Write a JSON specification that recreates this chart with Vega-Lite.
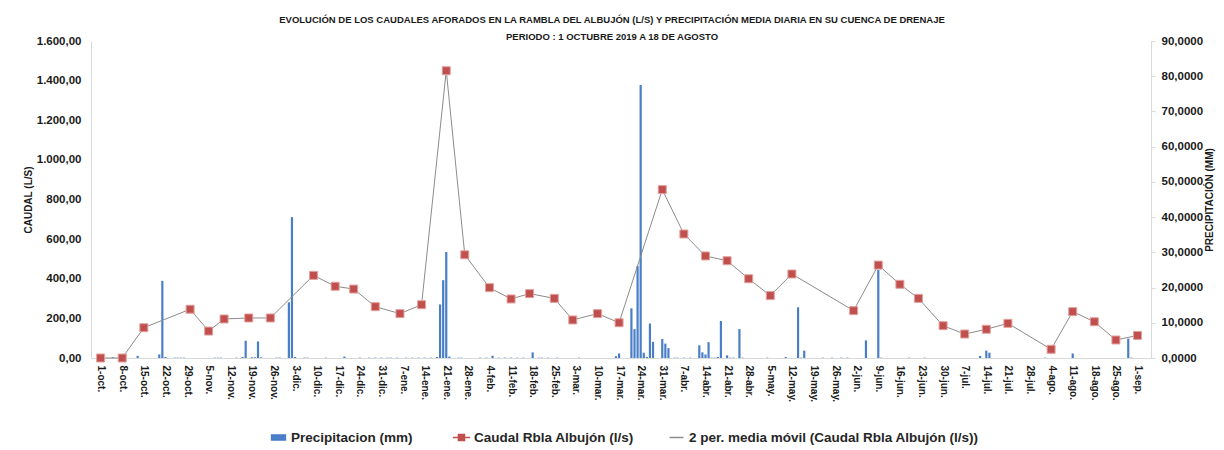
{
  "$schema": "https://vega.github.io/schema/vega-lite/v6.json",
  "width": 1060,
  "height": 317,
  "autosize": {"type": "none"},
  "padding": {"left": 91, "top": 41, "right": 73, "bottom": 92},
  "background": "white",
  "title": {
    "text": ["EVOLUCIÓN DE LOS CAUDALES AFORADOS EN LA RAMBLA DEL ALBUJÓN (L/S)  Y PRECIPITACIÓN MEDIA DIARIA EN SU CUENCA DE DRENAJE", "PERIODO : 1 OCTUBRE  2019 A 18 DE AGOSTO"],
    "font": "Liberation Sans",
    "fontSize": 9.5,
    "fontWeight": "bold",
    "color": "#1a1a1a",
    "lineHeight": 17,
    "anchor": "middle",
    "frame": "group",
    "offset": -6,
    "dx": -9
  },
  "datasets": {
    "precip": [
      {"fecha": "2019-10-05", "precip": 0.2},
      {"fecha": "2019-10-13", "precip": 0.6},
      {"fecha": "2019-10-20", "precip": 1.0},
      {"fecha": "2019-10-21", "precip": 21.9},
      {"fecha": "2019-10-22", "precip": 0.3},
      {"fecha": "2019-10-25", "precip": 0.1},
      {"fecha": "2019-10-26", "precip": 0.1},
      {"fecha": "2019-10-27", "precip": 0.1},
      {"fecha": "2019-10-28", "precip": 0.1},
      {"fecha": "2019-11-07", "precip": 0.1},
      {"fecha": "2019-11-08", "precip": 0.1},
      {"fecha": "2019-11-09", "precip": 0.1},
      {"fecha": "2019-11-14", "precip": 0.1},
      {"fecha": "2019-11-16", "precip": 0.3},
      {"fecha": "2019-11-17", "precip": 4.9},
      {"fecha": "2019-11-19", "precip": 0.2},
      {"fecha": "2019-11-20", "precip": 0.2},
      {"fecha": "2019-11-21", "precip": 4.7},
      {"fecha": "2019-11-22", "precip": 0.2},
      {"fecha": "2019-11-27", "precip": 0.1},
      {"fecha": "2019-11-28", "precip": 0.1},
      {"fecha": "2019-12-01", "precip": 15.8},
      {"fecha": "2019-12-02", "precip": 40.0},
      {"fecha": "2019-12-03", "precip": 0.3},
      {"fecha": "2019-12-06", "precip": 0.1},
      {"fecha": "2019-12-07", "precip": 0.1},
      {"fecha": "2019-12-13", "precip": 0.1},
      {"fecha": "2019-12-19", "precip": 0.4},
      {"fecha": "2019-12-24", "precip": 0.1},
      {"fecha": "2019-12-27", "precip": 0.1},
      {"fecha": "2019-12-29", "precip": 0.1},
      {"fecha": "2019-12-31", "precip": 0.1},
      {"fecha": "2020-01-02", "precip": 0.1},
      {"fecha": "2020-01-03", "precip": 0.1},
      {"fecha": "2020-01-05", "precip": 0.1},
      {"fecha": "2020-01-08", "precip": 0.1},
      {"fecha": "2020-01-10", "precip": 0.1},
      {"fecha": "2020-01-12", "precip": 0.1},
      {"fecha": "2020-01-14", "precip": 0.1},
      {"fecha": "2020-01-16", "precip": 0.1},
      {"fecha": "2020-01-18", "precip": 0.3},
      {"fecha": "2020-01-19", "precip": 15.2},
      {"fecha": "2020-01-20", "precip": 22.1},
      {"fecha": "2020-01-21", "precip": 30.1},
      {"fecha": "2020-01-22", "precip": 0.4},
      {"fecha": "2020-01-25", "precip": 0.1},
      {"fecha": "2020-01-26", "precip": 0.1},
      {"fecha": "2020-02-01", "precip": 0.1},
      {"fecha": "2020-02-03", "precip": 0.1},
      {"fecha": "2020-02-05", "precip": 0.65},
      {"fecha": "2020-02-07", "precip": 0.1},
      {"fecha": "2020-02-09", "precip": 0.1},
      {"fecha": "2020-02-11", "precip": 0.1},
      {"fecha": "2020-02-13", "precip": 0.1},
      {"fecha": "2020-02-15", "precip": 0.1},
      {"fecha": "2020-02-18", "precip": 1.6},
      {"fecha": "2020-02-20", "precip": 0.1},
      {"fecha": "2020-02-21", "precip": 0.1},
      {"fecha": "2020-02-23", "precip": 0.1},
      {"fecha": "2020-02-26", "precip": 0.1},
      {"fecha": "2020-03-04", "precip": 0.1},
      {"fecha": "2020-03-16", "precip": 0.5},
      {"fecha": "2020-03-17", "precip": 1.3},
      {"fecha": "2020-03-21", "precip": 14.1},
      {"fecha": "2020-03-22", "precip": 8.2},
      {"fecha": "2020-03-23", "precip": 26.1},
      {"fecha": "2020-03-24", "precip": 77.5},
      {"fecha": "2020-03-25", "precip": 1.5},
      {"fecha": "2020-03-26", "precip": 0.3},
      {"fecha": "2020-03-27", "precip": 9.8},
      {"fecha": "2020-03-28", "precip": 4.6},
      {"fecha": "2020-03-31", "precip": 5.4},
      {"fecha": "2020-04-01", "precip": 4.1},
      {"fecha": "2020-04-02", "precip": 2.8},
      {"fecha": "2020-04-04", "precip": 0.1},
      {"fecha": "2020-04-05", "precip": 0.1},
      {"fecha": "2020-04-07", "precip": 0.1},
      {"fecha": "2020-04-09", "precip": 0.1},
      {"fecha": "2020-04-12", "precip": 3.6},
      {"fecha": "2020-04-13", "precip": 1.6},
      {"fecha": "2020-04-14", "precip": 1.0},
      {"fecha": "2020-04-15", "precip": 4.5},
      {"fecha": "2020-04-16", "precip": 0.1},
      {"fecha": "2020-04-17", "precip": 0.1},
      {"fecha": "2020-04-18", "precip": 0.3},
      {"fecha": "2020-04-19", "precip": 10.5},
      {"fecha": "2020-04-21", "precip": 0.75},
      {"fecha": "2020-04-22", "precip": 0.1},
      {"fecha": "2020-04-23", "precip": 0.1},
      {"fecha": "2020-04-25", "precip": 8.2},
      {"fecha": "2020-04-26", "precip": 0.1},
      {"fecha": "2020-05-04", "precip": 0.1},
      {"fecha": "2020-05-10", "precip": 0.3},
      {"fecha": "2020-05-14", "precip": 14.4},
      {"fecha": "2020-05-15", "precip": 0.1},
      {"fecha": "2020-05-16", "precip": 2.1},
      {"fecha": "2020-05-22", "precip": 0.1},
      {"fecha": "2020-05-25", "precip": 0.1},
      {"fecha": "2020-05-28", "precip": 0.1},
      {"fecha": "2020-05-30", "precip": 0.1},
      {"fecha": "2020-06-05", "precip": 5.0},
      {"fecha": "2020-06-09", "precip": 25.0},
      {"fecha": "2020-06-10", "precip": 0.1},
      {"fecha": "2020-06-19", "precip": 0.1},
      {"fecha": "2020-06-24", "precip": 0.1},
      {"fecha": "2020-07-12", "precip": 0.6},
      {"fecha": "2020-07-14", "precip": 2.1},
      {"fecha": "2020-07-15", "precip": 1.5},
      {"fecha": "2020-08-02", "precip": 0.1},
      {"fecha": "2020-08-11", "precip": 1.3},
      {"fecha": "2020-08-29", "precip": 5.5},
      {"fecha": "2020-08-30", "precip": 0.1}
    ],
    "caudal": [
      {"fecha": "2019-10-01", "caudal": 0},
      {"fecha": "2019-10-08", "caudal": 0},
      {"fecha": "2019-10-15", "caudal": 153},
      {"fecha": "2019-10-30", "caudal": 246},
      {"fecha": "2019-11-05", "caudal": 136},
      {"fecha": "2019-11-10", "caudal": 197},
      {"fecha": "2019-11-18", "caudal": 202},
      {"fecha": "2019-11-25", "caudal": 202},
      {"fecha": "2019-12-09", "caudal": 417},
      {"fecha": "2019-12-16", "caudal": 362},
      {"fecha": "2019-12-22", "caudal": 348},
      {"fecha": "2019-12-29", "caudal": 259},
      {"fecha": "2020-01-06", "caudal": 224},
      {"fecha": "2020-01-13", "caudal": 269},
      {"fecha": "2020-01-21", "caudal": 1450},
      {"fecha": "2020-01-27", "caudal": 521},
      {"fecha": "2020-02-04", "caudal": 355},
      {"fecha": "2020-02-11", "caudal": 298},
      {"fecha": "2020-02-17", "caudal": 325},
      {"fecha": "2020-02-25", "caudal": 301},
      {"fecha": "2020-03-02", "caudal": 192},
      {"fecha": "2020-03-10", "caudal": 224},
      {"fecha": "2020-03-17", "caudal": 178},
      {"fecha": "2020-03-31", "caudal": 850},
      {"fecha": "2020-04-07", "caudal": 626},
      {"fecha": "2020-04-14", "caudal": 515},
      {"fecha": "2020-04-21", "caudal": 491},
      {"fecha": "2020-04-28", "caudal": 400},
      {"fecha": "2020-05-05", "caudal": 315},
      {"fecha": "2020-05-12", "caudal": 424},
      {"fecha": "2020-06-01", "caudal": 239},
      {"fecha": "2020-06-09", "caudal": 469},
      {"fecha": "2020-06-16", "caudal": 372},
      {"fecha": "2020-06-22", "caudal": 301},
      {"fecha": "2020-06-30", "caudal": 163},
      {"fecha": "2020-07-07", "caudal": 121},
      {"fecha": "2020-07-14", "caudal": 145},
      {"fecha": "2020-07-21", "caudal": 175},
      {"fecha": "2020-08-04", "caudal": 44},
      {"fecha": "2020-08-11", "caudal": 234},
      {"fecha": "2020-08-18", "caudal": 183},
      {"fecha": "2020-08-25", "caudal": 91},
      {"fecha": "2020-09-01", "caudal": 114}
    ]
  },
  "encoding": {
    "x": {
      "field": "fecha",
      "type": "temporal",
      "scale": {
        "type": "utc",
        "domain": [
          {"year": 2019, "month": 9, "date": 29, "hours": 12, "utc": true},
          {"year": 2020, "month": 9, "date": 3, "hours": 18, "utc": true}
        ]
      },
      "axis": {
        "title": null,
        "values": [
          {"year": 2019, "month": 10, "date": 1, "utc": true},
          {"year": 2019, "month": 10, "date": 8, "utc": true},
          {"year": 2019, "month": 10, "date": 15, "utc": true},
          {"year": 2019, "month": 10, "date": 22, "utc": true},
          {"year": 2019, "month": 10, "date": 29, "utc": true},
          {"year": 2019, "month": 11, "date": 5, "utc": true},
          {"year": 2019, "month": 11, "date": 12, "utc": true},
          {"year": 2019, "month": 11, "date": 19, "utc": true},
          {"year": 2019, "month": 11, "date": 26, "utc": true},
          {"year": 2019, "month": 12, "date": 3, "utc": true},
          {"year": 2019, "month": 12, "date": 10, "utc": true},
          {"year": 2019, "month": 12, "date": 17, "utc": true},
          {"year": 2019, "month": 12, "date": 24, "utc": true},
          {"year": 2019, "month": 12, "date": 31, "utc": true},
          {"year": 2020, "month": 1, "date": 7, "utc": true},
          {"year": 2020, "month": 1, "date": 14, "utc": true},
          {"year": 2020, "month": 1, "date": 21, "utc": true},
          {"year": 2020, "month": 1, "date": 28, "utc": true},
          {"year": 2020, "month": 2, "date": 4, "utc": true},
          {"year": 2020, "month": 2, "date": 11, "utc": true},
          {"year": 2020, "month": 2, "date": 18, "utc": true},
          {"year": 2020, "month": 2, "date": 25, "utc": true},
          {"year": 2020, "month": 3, "date": 3, "utc": true},
          {"year": 2020, "month": 3, "date": 10, "utc": true},
          {"year": 2020, "month": 3, "date": 17, "utc": true},
          {"year": 2020, "month": 3, "date": 24, "utc": true},
          {"year": 2020, "month": 3, "date": 31, "utc": true},
          {"year": 2020, "month": 4, "date": 7, "utc": true},
          {"year": 2020, "month": 4, "date": 14, "utc": true},
          {"year": 2020, "month": 4, "date": 21, "utc": true},
          {"year": 2020, "month": 4, "date": 28, "utc": true},
          {"year": 2020, "month": 5, "date": 5, "utc": true},
          {"year": 2020, "month": 5, "date": 12, "utc": true},
          {"year": 2020, "month": 5, "date": 19, "utc": true},
          {"year": 2020, "month": 5, "date": 26, "utc": true},
          {"year": 2020, "month": 6, "date": 2, "utc": true},
          {"year": 2020, "month": 6, "date": 9, "utc": true},
          {"year": 2020, "month": 6, "date": 16, "utc": true},
          {"year": 2020, "month": 6, "date": 23, "utc": true},
          {"year": 2020, "month": 6, "date": 30, "utc": true},
          {"year": 2020, "month": 7, "date": 7, "utc": true},
          {"year": 2020, "month": 7, "date": 14, "utc": true},
          {"year": 2020, "month": 7, "date": 21, "utc": true},
          {"year": 2020, "month": 7, "date": 28, "utc": true},
          {"year": 2020, "month": 8, "date": 4, "utc": true},
          {"year": 2020, "month": 8, "date": 11, "utc": true},
          {"year": 2020, "month": 8, "date": 18, "utc": true},
          {"year": 2020, "month": 8, "date": 25, "utc": true},
          {"year": 2020, "month": 9, "date": 1, "utc": true}
        ],
        "labelExpr": "utcdate(datum.value) + '-' + ['ene.','feb.','mar.','abr.','may.','jun.','jul.','ago.','sep.','oct.','nov.','dic.'][utcmonth(datum.value)]",
        "labelAngle": 90,
        "labelAlign": "left",
        "labelBaseline": "middle",
        "labelPadding": 7,
        "labelFont": "Liberation Sans",
        "labelFontSize": 10,
        "labelFontWeight": "bold",
        "labelColor": "#1a1a1a",
        "labelOverlap": false,
        "labelBound": false,
        "ticks": false,
        "tickSize": 0,
        "grid": false,
        "domainColor": "#d9d9d9",
        "domainWidth": 1
      }
    }
  },
  "layer": [
    {
      "data": {"name": "precip"},
      "mark": {"type": "bar", "width": 2.2},
      "encoding": {
        "y": {
          "field": "precip",
          "type": "quantitative",
          "scale": {"domain": [0, 90]},
          "axis": {
            "orient": "right",
            "title": "PRECIPITACIÓN (MM)",
            "values": [0, 10, 20, 30, 40, 50, 60, 70, 80, 90],
            "format": ".4f",
            "grid": false,
            "domainColor": "#d9d9d9",
            "tickColor": "#d9d9d9",
            "tickSize": 4,
            "labelPadding": 6,
            "labelFont": "Liberation Sans",
            "labelFontSize": 11.5,
            "labelFontWeight": "bold",
            "labelColor": "#1a1a1a",
            "titleFont": "Liberation Sans",
            "titleFontSize": 10,
            "titleFontWeight": "bold",
            "titleColor": "#1a1a1a",
            "titleAngle": 270,
            "titlePadding": 12
          }
        },
        "color": {
          "datum": "Precipitacion  (mm)",
          "scale": {
            "domain": ["Precipitacion  (mm)", "Caudal Rbla Albujón (l/s)", "2 per. media móvil (Caudal Rbla Albujón (l/s))"],
            "range": ["#4A7EC7", "#C0504D", "#8C8C8C"]
          },
          "legend": {
            "orient": "none",
            "legendX": 178,
            "legendY": 387,
            "direction": "horizontal",
            "title": null,
            "padding": 0,
            "labelFont": "Liberation Sans",
            "labelFontSize": 13.5,
            "labelFontWeight": "bold",
            "labelColor": "#262626",
            "labelOffset": 3,
            "labelLimit": 0,
            "symbolSize": 300,
            "columnPadding": 32,
            "encode": {
              "symbols": {
                "update": {
                  "shape": {"signal": "datum.value === 'Precipitacion  (mm)' ? 'M-0.8,-0.3H0.8V0.3H-0.8Z' : (datum.value === 'Caudal Rbla Albujón (l/s)' ? 'M-1,0H1M-0.35,-0.35H0.35V0.35H-0.35Z' : 'M-0.8,0H0.8')"},
                  "fill": {"signal": "datum.value === '2 per. media móvil (Caudal Rbla Albujón (l/s))' ? 'transparent' : scale('color', datum.value)"},
                  "stroke": {"signal": "scale('color', datum.value)"},
                  "strokeWidth": {"value": 1.5},
                  "opacity": {"value": 1},
                  "fillOpacity": {"value": 1},
                  "strokeOpacity": {"value": 1}
                }
              }
            }
          }
        }
      }
    },
    {
      "data": {"name": "caudal"},
      "encoding": {
        "y": {
          "field": "caudal",
          "type": "quantitative",
          "scale": {"domain": [0, 1600]},
          "axis": {
            "orient": "left",
            "title": "CAUDAL (L/S)",
            "values": [0, 200, 400, 600, 800, 1000, 1200, 1400, 1600],
            "format": ",.2f",
            "grid": false,
            "ticks": false,
            "tickSize": 0,
            "domainColor": "#d9d9d9",
            "labelPadding": 10,
            "labelFont": "Liberation Sans",
            "labelFontSize": 11.5,
            "labelFontWeight": "bold",
            "labelColor": "#1a1a1a",
            "titleFont": "Liberation Sans",
            "titleFontSize": 10,
            "titleFontWeight": "bold",
            "titleColor": "#1a1a1a",
            "titlePadding": 3
          }
        }
      },
      "layer": [
        {
          "transform": [{"filter": "datum.fecha != '2019-10-01'"}],
          "mark": {"type": "line", "strokeWidth": 1, "interpolate": "linear"},
          "encoding": {
            "color": {"datum": "2 per. media móvil (Caudal Rbla Albujón (l/s))"}
          }
        },
        {
          "mark": {"type": "point", "shape": "square", "filled": true, "size": 64, "stroke": "#E3A09E", "strokeWidth": 1, "opacity": 1},
          "encoding": {
            "color": {"datum": "Caudal Rbla Albujón (l/s)"}
          }
        }
      ]
    }
  ],
  "resolve": {"scale": {"y": "independent"}, "axis": {"y": "independent"}},
  "config": {
    "view": {"stroke": null},
    "font": "Liberation Sans",
    "locale": {
      "number": {"decimal": ",", "thousands": ".", "grouping": [3], "currency": ["", " €"]}
    }
  }
}
